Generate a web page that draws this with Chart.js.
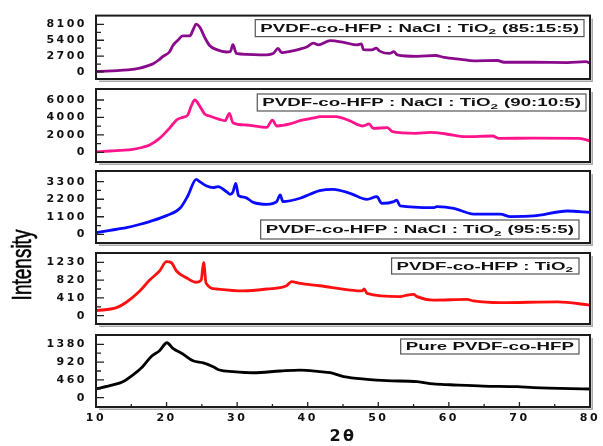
<!DOCTYPE html>
<html>
<head>
<meta charset="utf-8">
<script src="https://cdn.jsdelivr.net/npm/chart.js@4.4.1/dist/chart.umd.min.js"></script>
<style>
html,body{margin:0;padding:0;background:#fff;}
#wrap{position:relative;width:603px;height:446px;overflow:hidden;background:#fff;}
#wrap canvas{position:absolute;left:0;top:0;}
</style>
</head>
<body>
<div id="wrap">
<canvas id="c0" width="603" height="446"></canvas>
<canvas id="c1" width="603" height="446"></canvas>
<canvas id="c2" width="603" height="446"></canvas>
<canvas id="c3" width="603" height="446"></canvas>
<canvas id="c4" width="603" height="446"></canvas>
</div>
<script>
// ---------------- DATA ----------------
const xTickValues = [10, 20, 30, 40, 50, 60, 70, 80];
const xAxisTitle = '2θ';
const yAxisTitle = 'Intensity';

// PVDF-co-HFP : NaCl : TiO2 (85:15:5)
const label_85_15_5 = 'PVDF-co-HFP : NaCl : TiO₂ (85:15:5)';
const yTicks_85_15_5 = [0, 2700, 5400, 8100];
const twoTheta_85_15_5 = [10, 11.5, 13, 14.5, 15.5, 16.2, 17.2, 18.1, 19.0, 19.5, 20.4, 20.9, 21.6, 22.3, 23.3, 23.75, 24.2, 24.7, 25.4, 26.1, 27.1, 28.5, 29.05, 29.4, 29.9, 31.3, 33.7, 35.1, 35.8, 36.3, 37.5, 38.9, 40.0, 40.8, 41.5, 43.2, 45.1, 47.0, 47.6, 47.9, 49.1, 49.7, 50.2, 51.6, 52.2, 52.7, 55.5, 58.1, 59.3, 61.7, 63.6, 66.9, 67.8, 72.1, 76.8, 79.4, 80];
const intensity_85_15_5 = [100, 150, 230, 350, 480, 650, 1000, 1400, 2150, 2650, 3400, 4500, 5400, 6150, 6150, 7150, 8150, 7650, 5900, 4500, 3800, 3400, 3500, 4650, 3150, 3000, 2900, 3150, 4000, 3300, 3500, 3900, 4350, 4900, 4600, 5350, 5050, 4600, 4800, 3800, 3750, 4050, 3550, 3150, 3450, 2900, 2650, 2800, 2500, 2150, 1900, 1950, 1650, 1650, 1600, 1750, 1500];

// PVDF-co-HFP : NaCl : TiO2 (90:10:5)
const label_90_10_5 = 'PVDF-co-HFP : NaCl : TiO₂ (90:10:5)';
const yTicks_90_10_5 = [0, 2000, 4000, 6000];
const twoTheta_90_10_5 = [10, 12, 13.5, 15.2, 16.5, 17.6, 19.0, 20.4, 21.4, 22.3, 23.0, 23.5, 24.0, 24.7, 25.4, 26.1, 27.5, 28.3, 28.9, 29.4, 31.3, 34.2, 35.0, 35.6, 37.5, 38.9, 41.2, 41.7, 44.0, 45.9, 47.8, 48.7, 49.3, 51.3, 52.0, 55.3, 57.4, 59.6, 62.4, 66.2, 67.1, 72, 78.5, 80];
const intensity_90_10_5 = [50, 150, 230, 340, 550, 840, 1600, 2750, 3700, 4010, 4280, 5310, 6000, 5300, 4390, 4160, 3780, 3630, 4470, 3400, 3130, 2860, 3700, 3020, 3250, 3630, 4010, 4090, 4090, 3630, 3020, 3250, 2750, 2830, 2370, 2180, 2290, 2100, 1790, 1870, 1600, 1620, 1600, 1300];

// PVDF-co-HFP : NaCl : TiO2 (95:5:5)
const label_95_5_5 = 'PVDF-co-HFP : NaCl : TiO₂ (95:5:5)';
const yTicks_95_5_5 = [0, 1100, 2200, 3300];
const twoTheta_95_5_5 = [10, 12, 14.3, 16, 17.6, 20.0, 21.9, 23.0, 24.2, 24.7, 25.6, 26.6, 27.3, 28.5, 29.0, 29.4, 29.8, 30.2, 31.1, 32.3, 34.2, 35.6, 36.1, 36.5, 38.9, 40.3, 41.7, 43.6, 46.0, 48.4, 49.8, 50.5, 52.2, 52.6, 53.1, 57.8, 58.3, 60.7, 63.5, 67.3, 68.7, 72.0, 76.8, 80];
const intensity_95_5_5 = [105, 250, 420, 600, 800, 1170, 1630, 2400, 3450, 3300, 3050, 2930, 2990, 2670, 2510, 2650, 3200, 2420, 2320, 2000, 1880, 2050, 2470, 2050, 2260, 2510, 2740, 2820, 2570, 2190, 2360, 1940, 2050, 2150, 1780, 1670, 1730, 1630, 1270, 1270, 1110, 1150, 1460, 1380];

// PVDF-co-HFP : TiO2
const label_tio2 = 'PVDF-co-HFP : TiO₂';
const yTicks_tio2 = [0, 410, 820, 1230];
const twoTheta_tio2 = [10, 12.9, 14.3, 16.2, 17.6, 19.0, 20.0, 20.7, 21.4, 22.8, 24.2, 24.9, 25.25, 25.6, 27.1, 30.9, 34.2, 37.0, 37.7, 38.9, 41.7, 46.0, 47.7, 48.0, 48.4, 53.1, 54.1, 55.0, 55.5, 57.8, 62.6, 63.5, 67.3, 75.4, 80];
const intensity_tio2 = [115, 185, 310, 570, 820, 1030, 1245, 1220, 1030, 875, 770, 820, 1230, 745, 615, 570, 615, 690, 785, 745, 690, 590, 570, 615, 515, 440, 475, 490, 440, 360, 375, 340, 300, 320, 245];

// Pure PVDF-co-HFP
const label_pure = 'Pure PVDF-co-HFP';
const yTicks_pure = [0, 460, 920, 1380];
const twoTheta_pure = [10, 12.4, 13.8, 15.2, 16.6, 17.8, 19.0, 20.06, 20.9, 22.3, 23.75, 25.2, 26.6, 27.5, 29.4, 32.3, 36.1, 38.9, 41.7, 43.2, 45.1, 48.4, 51.2, 55.5, 57.8, 60.2, 64.9, 69.7, 72, 80];
const intensity_pure = [230, 330, 415, 585, 800, 1060, 1215, 1420, 1275, 1130, 955, 900, 800, 715, 675, 645, 690, 715, 675, 645, 545, 475, 440, 415, 355, 335, 300, 285, 260, 225];

// ---------------- LAYOUT / STYLE ----------------
const W = 603, H = 446;
const panels = [
  {canvas:'c0', xs:twoTheta_85_15_5, ys:intensity_85_15_5, ticks:yTicks_85_15_5, label:label_85_15_5, color:'#8a0a8c', yMin:-1200, yMax:9600, top:7,   bottom:79,  box:{right:6,  top:4,  h:17}},
  {canvas:'c1', xs:twoTheta_90_10_5, ys:intensity_90_10_5, ticks:yTicks_90_10_5, label:label_90_10_5, color:'#ff148c', yMin:-1113, yMax:7262, top:89,  bottom:162, box:{right:4,  top:5,  h:17}},
  {canvas:'c2', xs:twoTheta_95_5_5,  ys:intensity_95_5_5,  ticks:yTicks_95_5_5,  label:label_95_5_5,  color:'#0a0aff', yMin:-546,  yMax:3971, top:171, bottom:243, box:{right:11, bottom:4, h:19}, yTitle:true},
  {canvas:'c3', xs:twoTheta_tio2,    ys:intensity_tio2,    ticks:yTicks_tio2,    label:label_tio2,    color:'#ff1010', yMin:-191,  yMax:1444, top:253, bottom:324, box:{right:11, top:5,  h:16}},
  {canvas:'c4', xs:twoTheta_pure,    ys:intensity_pure,    ticks:yTicks_pure,    label:label_pure,    color:'#000000', yMin:-240,  yMax:1620, top:335, bottom:407, box:{right:11, top:4,  h:15}, xAxis:true}
];

const tickFont = {family:'DejaVu Sans', weight:'bold', size:11};

function drawLabelBox(ctx, a, p) {
  const sx = 1.7, padX = 5;
  const parts = p.label.split('₂');
  const subFont = 'bold 8px "Liberation Sans", Arial, sans-serif';
  const mainFont = 'bold 11px "Liberation Sans", Arial, sans-serif';
  let w = 0;
  const segs = [];
  parts.forEach((t, i) => {
    ctx.font = mainFont; const tw = ctx.measureText(t).width;
    segs.push({t, font: mainFont, w: tw, dy: 0}); w += tw;
    if (i < parts.length - 1) {
      ctx.font = subFont; const sw = ctx.measureText('2').width;
      segs.push({t: '2', font: subFont, w: sw, dy: 3.5}); w += sw + 0.5;
    }
  });
  const bw = w * sx + padX * 2;
  const bh = p.box.h;
  const bx = a.right - p.box.right - bw;
  const by = p.box.top !== undefined ? a.top + p.box.top : a.bottom - p.box.bottom - bh;
  ctx.fillStyle = '#ffffff';
  ctx.fillRect(bx, by, bw, bh);
  ctx.strokeStyle = '#555';
  ctx.lineWidth = 1.2;
  ctx.strokeRect(bx, by, bw, bh);
  ctx.save();
  ctx.translate(bx + padX, by + bh / 2 + 0.5);
  ctx.scale(sx, 1);
  ctx.fillStyle = '#111';
  ctx.textBaseline = 'middle';
  ctx.textAlign = 'left';
  let cx = 0;
  segs.forEach(s => {
    ctx.font = s.font;
    ctx.fillText(s.t, cx, s.dy);
    cx += s.w + (s.dy ? 0.5 : 0);
  });
  ctx.restore();
}

const decor = {
  id: 'decor',
  beforeDraw(chart) { chart.ctx.letterSpacing = '2.5px'; },
  afterDraw(chart, args, opts) {
    const p = opts.panel;
    const {ctx, chartArea: a, scales} = chart;
    ctx.save();
    ctx.letterSpacing = '0px';
    // shadow
    ctx.strokeStyle = '#a8a8a8'; ctx.lineWidth = 1.5;
    ctx.beginPath();
    ctx.moveTo(a.right + 2.2, a.top + 3); ctx.lineTo(a.right + 2.2, a.bottom + 2.2); ctx.lineTo(a.left + 3, a.bottom + 2.2);
    ctx.stroke();
    // frame
    ctx.strokeStyle = '#1c1c1c'; ctx.lineWidth = 2;
    ctx.strokeRect(a.left, a.top, a.right - a.left, a.bottom - a.top);
    // y ticks (inside)
    const ys = scales.y;
    const tv = ys.ticks.map(t => t.value);
    ctx.lineWidth = 1.3; ctx.strokeStyle = '#222';
    ctx.beginPath();
    tv.forEach(v => { const py = ys.getPixelForValue(v); ctx.moveTo(a.left, py); ctx.lineTo(a.left + 8, py); });
    for (let i = 0; i < tv.length - 1; i++) {
      const py = ys.getPixelForValue((tv[i] + tv[i + 1]) / 2);
      ctx.moveTo(a.left, py); ctx.lineTo(a.left + 5, py);
    }
    ctx.stroke();
    if (p.xAxis) {
      const xs = scales.x;
      const xv = xs.ticks.map(t => t.value);
      ctx.beginPath();
      xv.forEach(v => { const px = xs.getPixelForValue(v); ctx.moveTo(px, a.bottom); ctx.lineTo(px, a.bottom - 5); });
      for (let i = 0; i < xv.length - 1; i++) {
        const px = xs.getPixelForValue((xv[i] + xv[i + 1]) / 2);
        ctx.moveTo(px, a.bottom); ctx.lineTo(px, a.bottom - 3);
      }
      ctx.stroke();
    }
    drawLabelBox(ctx, a, p);
    if (p.yTitle) {
      ctx.save();
      ctx.translate(23, 265);
      ctx.rotate(-Math.PI / 2);
      ctx.scale(1, 1.5);
      ctx.font = '19px "Liberation Sans", Arial, sans-serif';
      ctx.fillStyle = '#000';
      ctx.strokeStyle = '#000';
      ctx.lineWidth = 0.4;
      ctx.textAlign = 'center';
      ctx.textBaseline = 'middle';
      ctx.fillText(yAxisTitle, 0, 0);
      ctx.strokeText(yAxisTitle, 0, 0);
      ctx.restore();
    }
    ctx.restore();
  }
};

panels.forEach(p => {
  const ctx = document.getElementById(p.canvas);
  new Chart(ctx, {
    type: 'line',
    data: {
      datasets: [{
        data: p.xs.map((x, i) => ({x, y: p.ys[i]})),
        borderColor: p.color,
        borderWidth: 2.8,
        pointRadius: 0,
        fill: false,
        cubicInterpolationMode: 'monotone'
      }]
    },
    options: {
      responsive: false,
      animation: false,
      events: [],
      layout: {padding: {left: 0, right: 13, top: p.top, bottom: p.xAxis ? 0 : H - p.bottom}},
      plugins: {legend: {display: false}, tooltip: {enabled: false}, decor: {panel: p}},
      scales: {
        x: {
          type: 'linear', min: 10, max: 80,
          display: !!p.xAxis,
          afterBuildTicks: s => { s.ticks = xTickValues.map(v => ({value: v})); },
          afterFit: s => { if (p.xAxis) s.height = H - p.bottom; },
          grid: {display: false, drawTicks: false},
          border: {display: false},
          ticks: {font: tickFont, color: '#111', padding: 5, maxRotation: 0, autoSkip: false, callback: v => String(v)},
          title: {display: !!p.xAxis, text: xAxisTitle, font: {family: 'DejaVu Sans', weight: 'bold', size: 16}, color: '#111', padding: {top: 2, bottom: 0}}
        },
        y: {
          type: 'linear', min: p.yMin, max: p.yMax,
          afterBuildTicks: s => { s.ticks = p.ticks.map(v => ({value: v})); },
          afterFit: s => { s.width = 96; },
          grid: {display: false, drawTicks: false},
          border: {display: false},
          ticks: {font: tickFont, color: '#111', padding: 9, autoSkip: false, callback: v => String(v)}
        }
      }
    },
    plugins: [decor]
  });
});
</script>
</body>
</html>
